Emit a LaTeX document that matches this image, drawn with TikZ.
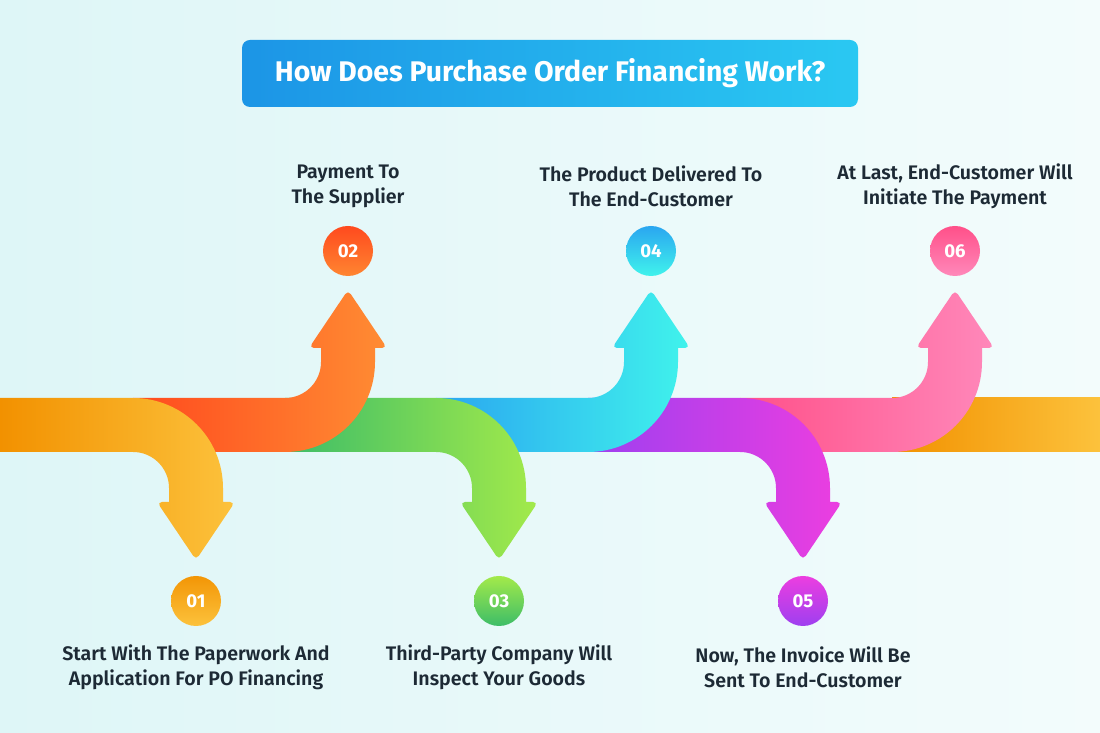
\documentclass[tikz,border=0pt]{standalone}
\usepackage{fontspec}
\setmainfont{Fira Sans}[BoldFont={Fira Sans SemiBold}]
\newfontfamily\numfont{Fira Sans}[UprightFont={Fira Sans Bold}]

\definecolor{bgleft}{HTML}{DEF6F7}
\definecolor{bgright}{HTML}{F3FCFC}
\definecolor{titleleft}{HTML}{1C95E6}
\definecolor{titleright}{HTML}{2AC8F2}
\definecolor{textdark}{HTML}{1D2A35}
\definecolor{orangeA}{HTML}{F29100}
\definecolor{orangeB}{HTML}{FCC23C}
\definecolor{redA}{HTML}{FF4A1E}
\definecolor{redB}{HTML}{FF8C33}
\definecolor{greenA}{HTML}{3DBD68}
\definecolor{greenB}{HTML}{A3EA4A}
\definecolor{cyanA}{HTML}{2AA6F0}
\definecolor{cyanB}{HTML}{40F3EC}
\definecolor{purpleA}{HTML}{9E3FF0}
\definecolor{purpleB}{HTML}{EC3EE0}
\definecolor{pinkA}{HTML}{FF5089}
\definecolor{pinkB}{HTML}{FF88BA}

\begin{document}
\begin{tikzpicture}[x=0.5pt,y=0.5pt,
  stepnum/.style={circle,minimum size=25pt,inner sep=0pt,text=white,
    font=\numfont\fontsize{9.3pt}{11pt}\selectfont},
  steptext/.style={align=center,text=textdark,font=\bfseries\fontsize{9.8pt}{12.6pt}\selectfont}]
\shade [left color=bgleft,right color=bgright] (0,0) rectangle (1100,733);
\useasboundingbox (0,0) rectangle (1100,733);

% title
\node [rounded corners=4pt,left color=titleleft,right color=titleright,minimum width=308pt,minimum height=33.5pt,
  text=white,font=\numfont\fontsize{14.2pt}{16pt}\selectfont]
  (title) at (550,659.5) {How Does Purchase Order Financing Work?};

% band, drawn from the right end back to the left
\shade [left color=orangeA,right color=orangeB] (892,281) rectangle (1100,335);
\shade [left color=pinkA,right color=pinkB] (740,281) -- (892,281) arc [start angle=-90,end angle=0,radius=90] -- (982,385) [rounded corners=2.5pt] -- (994,385) -- (955,443) -- (916,385) [sharp corners] -- (928,385) -- (928,371) arc [start angle=0,end angle=-90,radius=36] -- (740,335) -- cycle;
\shade [left color=purpleA,right color=purpleB] (588,335) -- (740,335) arc [start angle=90,end angle=0,radius=90] -- (830,231) [rounded corners=2.5pt] -- (842,231) -- (803,173) -- (764,231) [sharp corners] -- (776,231) -- (776,245) arc [start angle=0,end angle=90,radius=36] -- (588,281) -- cycle;
\shade [left color=cyanA,right color=cyanB] (436,281) -- (588,281) arc [start angle=-90,end angle=0,radius=90] -- (678,385) [rounded corners=2.5pt] -- (690,385) -- (651,443) -- (612,385) [sharp corners] -- (624,385) -- (624,371) arc [start angle=0,end angle=-90,radius=36] -- (436,335) -- cycle;
\shade [left color=greenA,right color=greenB] (285,335) -- (436,335) arc [start angle=90,end angle=0,radius=90] -- (526,231) [rounded corners=2.5pt] -- (538,231) -- (499,173) -- (460,231) [sharp corners] -- (472,231) -- (472,245) arc [start angle=0,end angle=90,radius=36] -- (285,281) -- cycle;
\shade [left color=redA,right color=redB] (133,281) -- (285,281) arc [start angle=-90,end angle=0,radius=90] -- (375,385) [rounded corners=2.5pt] -- (387,385) -- (348,443) -- (309,385) [sharp corners] -- (321,385) -- (321,371) arc [start angle=0,end angle=-90,radius=36] -- (133,335) -- cycle;
\shade [left color=orangeA,right color=orangeB] (0,335) -- (133,335) arc [start angle=90,end angle=0,radius=90] -- (223,231) [rounded corners=2.5pt] -- (235,231) -- (196,173) -- (157,231) [sharp corners] -- (169,231) -- (169,245) arc [start angle=0,end angle=90,radius=36] -- (0,281) -- cycle;

% numbers
\node [stepnum,top color=orangeA!90!orangeB,bottom color=orangeB] (n1) at (196,132) {01};
\node [stepnum,top color=redA,bottom color=redB!90!redA] (n2) at (348,482) {02};
\node [stepnum,top color=greenB,bottom color=greenA] (n3) at (499,132) {03};
\node [stepnum,top color=cyanA,bottom color=cyanB] (n4) at (651,482) {04};
\node [stepnum,top color=purpleB,bottom color=purpleA] (n5) at (803,132) {05};
\node [stepnum,top color=pinkA,bottom color=pinkB] (n6) at (955,482) {06};

% labels
\node [steptext] (t1) at (196,66) {Start With The Paperwork And\\Application For PO Financing};
\node [steptext] (t2) at (348,547) {Payment To\\The Supplier};
\node [steptext] (t3) at (499,66) {Third-Party Company Will\\Inspect Your Goods};
\node [steptext] (t4) at (651,547) {The Product Delivered To\\The End-Customer};
\node [steptext] (t5) at (803,66) {Now, The Invoice Will Be\\Sent To End-Customer};
\node [steptext] (t6) at (955,547) {At Last, End-Customer Will\\Initiate The Payment};
\end{tikzpicture}
\end{document}
